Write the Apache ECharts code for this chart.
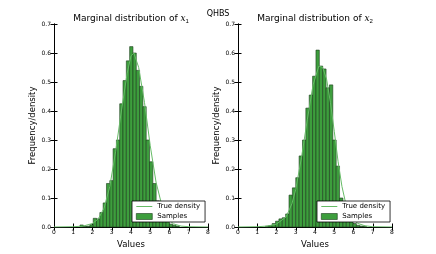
<!DOCTYPE html>
<html><head><meta charset="utf-8">
<script src="https://cdn.jsdelivr.net/npm/echarts@6/dist/echarts.min.js"></script>
<style>html,body{margin:0;padding:0;background:#fff}#c{width:436px;height:254px}</style>
</head><body><div id="c"></div>
<script>
const xTicks = [0, 1, 2, 3, 4, 5, 6, 7, 8];
const yTicks = [0.0, 0.1, 0.2, 0.3, 0.4, 0.5, 0.6, 0.7];

const binStart1 = 1.35, binWidth1 = 0.172;
const hist1 = [0.007,0.002,0.003,0.008,0.03,0.028,0.05,0.083,0.15,0.16,0.27,0.30,0.425,0.505,0.573,0.622,0.60,0.54,0.485,0.415,0.30,0.225,0.15,0.09,0.06,0.035,0.02,0.01,0.006,0.003];

const binStart2 = 1.425, binWidth2 = 0.175;
const hist2 = [0.003,0.005,0.012,0.02,0.028,0.032,0.045,0.11,0.135,0.17,0.245,0.30,0.41,0.455,0.52,0.61,0.555,0.545,0.48,0.49,0.30,0.21,0.10,0.07,0.04,0.025,0.012,0.006,0.003,0.002];

const densX1 = [0,1,1.5,2,2.3,2.6,2.9,3.2,3.5,3.8,4.0,4.15,4.4,4.7,5.0,5.3,5.6,5.9,6.2,6.6,7,8];
const densY1 = [0,0.001,0.003,0.012,0.028,0.065,0.14,0.26,0.40,0.53,0.59,0.60,0.55,0.43,0.28,0.155,0.075,0.03,0.011,0.003,0.001,0];
const densX2 = [0,1,1.5,2,2.5,2.8,3.0,3.3,3.6,3.9,4.2,4.4,4.6,4.8,5.0,5.2,5.4,5.6,5.9,6.2,6.6,7,8];
const densY2 = [0,0.001,0.003,0.01,0.035,0.08,0.13,0.24,0.37,0.49,0.555,0.55,0.51,0.43,0.33,0.225,0.14,0.08,0.035,0.013,0.004,0.001,0];

const BAR = '#3d9e3d', EDGE = '#1b3b1b', LINE = '#66bb66';
const FONT = 'DejaVu Sans';

function histData(start, w, h) { return h.map((v, i) => [start + i * w, start + (i + 1) * w, v]); }
function pairs(xs, ys) { return xs.map((x, i) => [x, ys[i]]); }

function renderBar(params, api) {
  const p0 = api.coord([api.value(0), api.value(2)]);
  const p1 = api.coord([api.value(1), 0]);
  return { type: 'rect', shape: { x: p0[0], y: p0[1], width: p1[0] - p0[0], height: p1[1] - p0[1] },
    style: { fill: BAR, stroke: EDGE, lineWidth: 0.6 } };
}

const chart = echarts.init(document.getElementById('c'), null, { renderer: 'canvas' });
const grids = [{ left: 54, top: 24, width: 154, height: 204 }, { left: 238, top: 24, width: 154, height: 204 }];
const xAxes = [], yAxes = [];
[0, 1].forEach(g => {
  xAxes.push({ gridIndex: g, type: 'value', min: xTicks[0], max: xTicks[xTicks.length - 1], interval: 1, position: 'bottom',
    name: 'Values', nameLocation: 'middle', nameGap: 13, nameTextStyle: { fontSize: 8.5, color: '#000', fontFamily: FONT },
    axisLine: { show: true, lineStyle: { color: '#000', width: 1 } }, axisTick: { inside: true, length: 3.5, lineStyle: { color: '#000' } },
    axisLabel: { fontSize: 6, color: '#000', margin: 2, fontFamily: FONT }, splitLine: { show: false } });
  xAxes.push({ gridIndex: g, type: 'value', min: xTicks[0], max: xTicks[xTicks.length - 1], interval: 1, position: 'top',
    axisLine: { show: true, lineStyle: { color: '#000', width: 1 } }, axisTick: { inside: true, length: 3.5, lineStyle: { color: '#000' } },
    axisLabel: { show: false }, splitLine: { show: false } });
  yAxes.push({ gridIndex: g, type: 'value', min: yTicks[0], max: yTicks[yTicks.length - 1], interval: 0.1, position: 'left',
    name: 'Frequency/density', nameLocation: 'middle', nameGap: 14, nameTextStyle: { fontSize: 8.5, color: '#000', fontFamily: FONT },
    axisLine: { show: true, lineStyle: { color: '#000', width: 1 } }, axisTick: { inside: true, length: 3.5, lineStyle: { color: '#000' } },
    axisLabel: { fontSize: 6, color: '#000', margin: 3, fontFamily: FONT, formatter: v => v.toFixed(1) }, splitLine: { show: false } });
  yAxes.push({ gridIndex: g, type: 'value', min: yTicks[0], max: yTicks[yTicks.length - 1], interval: 0.1, position: 'right',
    axisLine: { show: true, lineStyle: { color: '#000', width: 1 } }, axisTick: { inside: true, length: 3.5, lineStyle: { color: '#000' } },
    axisLabel: { show: false }, splitLine: { show: false } });
});

const legendBase = { orient: 'vertical', itemWidth: 16, itemHeight: 6, itemGap: 3, padding: [2, 5, 2, 4],
  backgroundColor: '#fff', borderColor: '#000', borderWidth: 0.8, borderRadius: 0,
  textStyle: { fontSize: 7, color: '#000', fontFamily: FONT }, selectedMode: false, z: 20,
  data: [{ name: 'True density', icon: 'path://M0,0 H16 V1 H0 Z', itemStyle: { color: LINE, opacity: 1, borderWidth: 0 } },
         { name: 'Samples', icon: 'rect', itemStyle: { color: BAR, borderColor: EDGE, borderWidth: 0.6 } }] };

const titleRich = { i: { fontStyle: 'italic', fontFamily: 'DejaVu Serif', fontSize: 9, fill: '#000' }, s: { fontSize: 6, fill: '#000', padding: [4, 0, 0, 0] } };

chart.setOption({
  animation: false,
  title: { text: 'QHBS', left: 'center', top: 5, textStyle: { fontSize: 8, fontWeight: 'normal', color: '#000', fontFamily: FONT } },
  grid: grids,
  xAxis: xAxes,
  yAxis: yAxes,
  legend: [Object.assign({ left: 132, top: 201 }, legendBase), Object.assign({ left: 317, top: 201 }, legendBase)],
  graphic: [
    { type: 'text', x: 131, y: 19, style: { text: 'Marginal distribution of {i|x}{s|1}', rich: titleRich, fontSize: 9, fontFamily: FONT, fill: '#000', align: 'center', verticalAlign: 'middle' } },
    { type: 'text', x: 315, y: 19, style: { text: 'Marginal distribution of {i|x}{s|2}', rich: titleRich, fontSize: 9, fontFamily: FONT, fill: '#000', align: 'center', verticalAlign: 'middle' } }
  ],
  series: [
    { name: 'Samples', type: 'custom', xAxisIndex: 0, yAxisIndex: 0, renderItem: renderBar, encode: { x: [0, 1], y: 2 }, itemStyle: { color: BAR }, data: histData(binStart1, binWidth1, hist1), z: 2 },
    { name: 'True density', type: 'line', xAxisIndex: 0, yAxisIndex: 0, symbol: 'none', showSymbol: false, lineStyle: { color: LINE, width: 1 }, itemStyle: { color: LINE }, data: pairs(densX1, densY1), z: 3 },
    { name: 'Samples', type: 'custom', xAxisIndex: 2, yAxisIndex: 2, renderItem: renderBar, encode: { x: [0, 1], y: 2 }, itemStyle: { color: BAR }, data: histData(binStart2, binWidth2, hist2), z: 2 },
    { name: 'True density', type: 'line', xAxisIndex: 2, yAxisIndex: 2, symbol: 'none', showSymbol: false, lineStyle: { color: LINE, width: 1 }, itemStyle: { color: LINE }, data: pairs(densX2, densY2), z: 3 }
  ]
});
</script></body></html>
